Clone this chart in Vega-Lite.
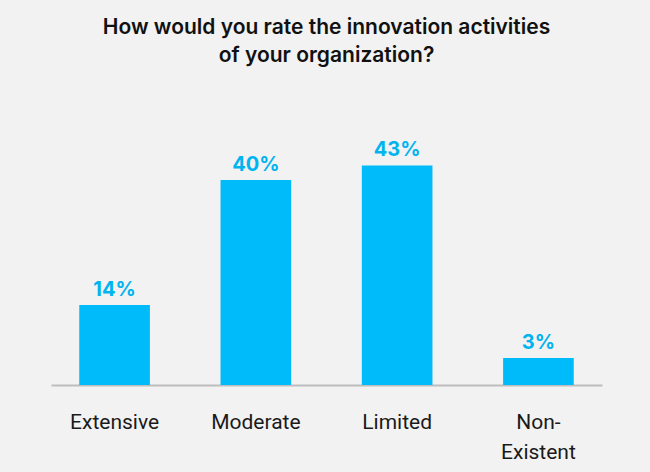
{
  "$schema": "https://vega.github.io/schema/vega-lite/v6.json",
  "width": 551,
  "height": 285,
  "autosize": {"type": "none"},
  "padding": {"left": 51, "top": 100, "right": 48, "bottom": 87},
  "background": "#f2f2f2",
  "title": {
    "text": ["How would you rate the innovation activities", "of your organization?"],
    "font": "Inter",
    "fontSize": 21,
    "fontWeight": 600,
    "color": "#111111",
    "lineHeight": 28,
    "anchor": "middle",
    "offset": 34
  },
  "data": {
    "values": [
      {"category": "Extensive", "value": 14, "label": "14%"},
      {"category": "Moderate", "value": 40, "label": "40%"},
      {"category": "Limited", "value": 43, "label": "43%"},
      {"category": "Non-Existent", "value": 3, "label": "3%"}
    ]
  },
  "encoding": {
    "x": {
      "field": "category",
      "type": "nominal",
      "sort": null,
      "scale": {"paddingInner": 0.5, "paddingOuter": 0.2},
      "axis": {
        "title": null,
        "labelAngle": 0,
        "ticks": false,
        "domainColor": "#bdbdbd",
        "domainWidth": 2,
        "labelFont": "Roboto",
        "labelFontSize": 21,
        "labelColor": "#1a1a1a",
        "labelPadding": 37,
        "labelBaseline": "middle",
        "labelLineHeight": 30,
        "labelExpr": "datum.value == 'Non-Existent' ? ['Non-', 'Existent'] : datum.label"
      }
    },
    "y": {
      "field": "value",
      "type": "quantitative",
      "scale": {"domain": [-2.6, 56.6], "zero": false, "nice": false},
      "axis": null
    }
  },
  "layer": [
    {
      "mark": {"type": "bar", "color": "#00bbfa"},
      "encoding": {"y2": {"datum": -2.6}}
    },
    {
      "mark": {
        "type": "text",
        "baseline": "bottom",
        "dy": -5,
        "font": "Inter",
        "fontSize": 20,
        "fontWeight": 700,
        "color": "#00b4ef"
      },
      "encoding": {"text": {"field": "label", "type": "nominal"}}
    }
  ],
  "config": {"view": {"stroke": null}}
}
